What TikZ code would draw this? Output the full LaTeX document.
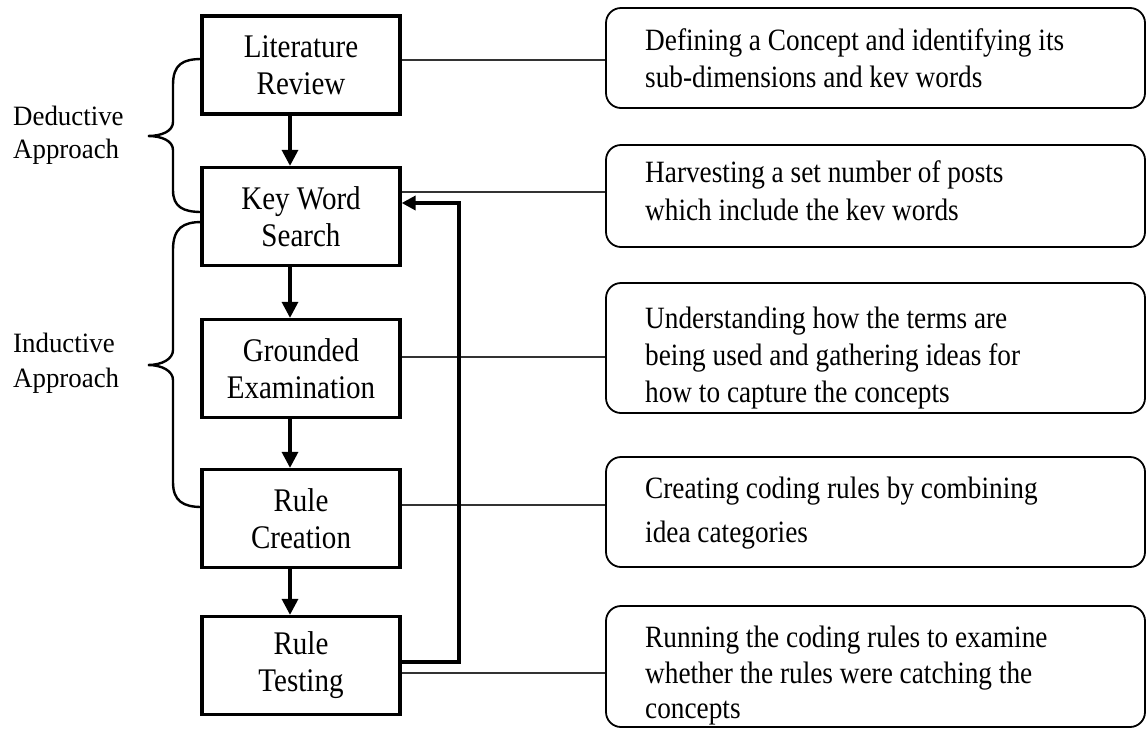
\documentclass[tikz,border=0pt]{standalone}
\usepackage{fontspec}
\setmainfont{Liberation Serif}
\newfontfamily\narrowserif[FakeStretch=0.88]{Liberation Serif}
\newfontfamily\sideserif[FakeStretch=0.96]{Liberation Serif}
\usetikzlibrary{arrows.meta,calc}
\begin{document}
\begin{tikzpicture}[x=1pt,y=-1pt,
  lbox/.style={draw,line width=3.3pt,minimum width=198pt,minimum height=98pt,inner sep=0pt,align=center,font=\narrowserif\fontsize{33}{37}\selectfont},
  rbox/.style={draw,line width=1.8pt,rounded corners=15pt,inner sep=0pt},
  rtext/.style={anchor=base west,inner sep=0pt,font=\narrowserif\fontsize{31}{37}\selectfont},
  sidetext/.style={anchor=base west,inner sep=0pt,font=\sideserif\fontsize{28}{34}\selectfont},
  conn/.style={draw=black!80,line width=1.4pt},
  flow/.style={line width=3.3pt,-{Triangle[length=16pt,width=16pt]}},
  fback/.style={line width=4pt,-{Triangle[length=14pt,width=14pt]}},
  brace/.style={line width=2.4pt}]
\useasboundingbox (0,0) rectangle (1147,729);
% left boxes
\node[lbox] (lit) at (301,65) {Literature\\Review};
\node[lbox] (kw) at (301,216.5) {Key Word\\Search};
\node[lbox] (ge) at (301,368.5) {Grounded\\Examination};
\node[lbox] (rc) at (301,518.5) {Rule\\Creation};
\node[lbox] (rt) at (301,665.5) {Rule\\Testing};
% right boxes
\node[rbox,minimum width=539pt,minimum height=100pt] (r1) at (875.5,58) {};
\node[rbox,minimum width=539pt,minimum height=102pt] (r2) at (875.5,196) {};
\node[rbox,minimum width=539pt,minimum height=130pt] (r3) at (875.5,348) {};
\node[rbox,minimum width=539pt,minimum height=110pt] (r4) at (875.5,512) {};
\node[rbox,minimum width=539pt,minimum height=121pt] (r5) at (875.5,666.5) {};
% texts
\node[rtext] (t1a) at (645,50) {Defining a Concept and identifying its};
\node[rtext] (t1b) at (645,87) {sub-dimensions and kev words};
\node[rtext] (t2a) at (645,182) {Harvesting a set number of posts};
\node[rtext] (t2b) at (645,220) {which include the kev words};
\node[rtext] (t3a) at (645,328) {Understanding how the terms are};
\node[rtext] (t3b) at (645,365) {being used and gathering ideas for};
\node[rtext] (t3c) at (645,402) {how to capture the concepts};
\node[rtext] (t4a) at (645,498) {Creating coding rules by combining};
\node[rtext] (t4b) at (645,542) {idea categories};
\node[rtext] (t5a) at (645,647) {Running the coding rules to examine};
\node[rtext] (t5b) at (645,683) {whether the rules were catching the};
\node[rtext] (t5c) at (645,718) {concepts};
% side labels
\node[sidetext] (d1) at (13,125) {Deductive};
\node[sidetext] (d2) at (13,158) {Approach};
\node[sidetext] (i1) at (13,352) {Inductive};
\node[sidetext] (i2) at (13,387) {Approach};
% connectors to right boxes
\coordinate (c1) at (606,60);
\coordinate (c2) at (606,192);
\coordinate (c3) at (606,357);
\coordinate (c4) at (606,505);
\coordinate (c5) at (606,673);
\draw[conn] (lit.east |- c1) -- (r1.west |- c1);
\draw[conn] (kw.east |- c2) -- (r2.west |- c2);
\draw[conn] (ge.east |- c3) -- (r3.west |- c3);
\draw[conn] (rc.east |- c4) -- (r4.west |- c4);
\draw[conn] (rt.east |- c5) -- (r5.west |- c5);
% flow arrows
\draw[flow] ([xshift=-11pt]lit.south) -- ([xshift=-11pt]kw.north);
\draw[flow] ([xshift=-11pt]kw.south) -- ([xshift=-11pt]ge.north);
\draw[flow] ([xshift=-11pt]ge.south) -- ([xshift=-11pt]rc.north);
\draw[flow] ([xshift=-11pt]rc.south) -- ([xshift=-11pt]rt.north);
% feedback
\coordinate (fb) at (459,0);
\draw[fback] ([yshift=3.5pt]rt.east) -| (fb |- 0,203) -- ([yshift=13.5pt]kw.east);
% braces
\draw[brace] (202,59) .. controls (183,59) and (173,64) .. (173,85) -- (173,122) .. controls (173,131) and (162,136) .. (148,136) .. controls (162,136) and (173,141) .. (173,150) -- (173,190) .. controls (173,207) and (183,212) .. (202,212);
\draw[brace] (202,222) .. controls (183,222) and (173,228) .. (173,250) -- (173,350) .. controls (173,359) and (162,365) .. (148,365) .. controls (162,365) and (173,371) .. (173,380) -- (173,482) .. controls (173,501) and (183,507) .. (202,507);
\end{tikzpicture}
\end{document}
